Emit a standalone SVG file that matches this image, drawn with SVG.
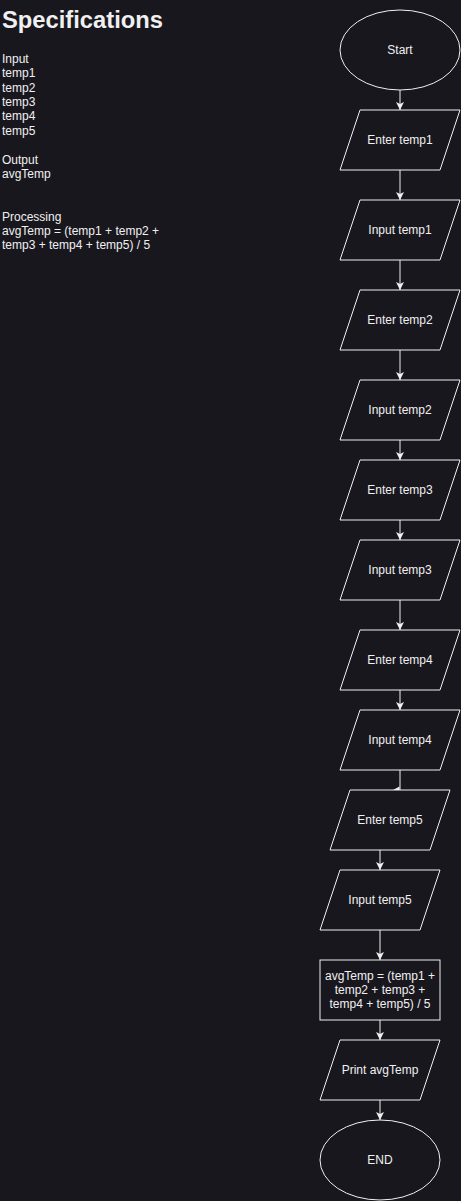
<svg xmlns="http://www.w3.org/2000/svg" width="461" height="1201" viewBox="0 0 461 1201">
<style>
.bg{fill:#18171e}
.shape{fill:#18171e;stroke:#f0f0f0;stroke-width:1}
.lbl{font-family:"Liberation Sans",Arial,sans-serif;font-size:12px;fill:#f0f0f0;text-anchor:middle;dominant-baseline:central}
.spec{font-family:"Liberation Sans",Arial,sans-serif;font-size:12px;fill:#f0f0f0}
.title{font-family:"Liberation Sans",Arial,sans-serif;font-size:23px;font-weight:bold;fill:#f0f0f0}
.edge{fill:none;stroke:#f0f0f0;stroke-width:1}
</style>
<defs>
<marker id="arr" viewBox="0 0 8 8" refX="8" refY="4" markerWidth="8" markerHeight="8" markerUnits="userSpaceOnUse" orient="auto">
<path d="M0,0 L8,4 L0,8 L2,4 z" fill="#f0f0f0"/>
</marker>
</defs>
<rect class="bg" x="0" y="0" width="461" height="1201"/>

<g id="specs">
<text class="title" x="2" y="28" textLength="161" lengthAdjust="spacingAndGlyphs">Specifications</text>
<text class="spec" x="2" y="63">Input</text>
<text class="spec" x="2" y="77">temp1</text>
<text class="spec" x="2" y="92">temp2</text>
<text class="spec" x="2" y="106">temp3</text>
<text class="spec" x="2" y="120">temp4</text>
<text class="spec" x="2" y="135">temp5</text>
<text class="spec" x="2" y="164">Output</text>
<text class="spec" x="2" y="178">avgTemp</text>
<text class="spec" x="2" y="221">Processing</text>
<text class="spec" x="2" y="235">avgTemp = (temp1 + temp2 +</text>
<text class="spec" x="2" y="249">temp3 + temp4 + temp5) / 5</text>
</g>

<g id="connectors">
<line class="edge" x1="400" y1="90" x2="400" y2="110" marker-end="url(#arr)"/>
<line class="edge" x1="400" y1="170" x2="400" y2="200" marker-end="url(#arr)"/>
<line class="edge" x1="400" y1="260" x2="400" y2="290" marker-end="url(#arr)"/>
<line class="edge" x1="400" y1="350" x2="400" y2="380" marker-end="url(#arr)"/>
<line class="edge" x1="400" y1="440" x2="400" y2="460" marker-end="url(#arr)"/>
<line class="edge" x1="400" y1="520" x2="400" y2="540" marker-end="url(#arr)"/>
<line class="edge" x1="400" y1="600" x2="400" y2="630" marker-end="url(#arr)"/>
<line class="edge" x1="400" y1="690" x2="400" y2="710" marker-end="url(#arr)"/>
<line class="edge" x1="400" y1="770" x2="400" y2="790"/>
<polygon points="393,790 399.5,786.5 399.5,790" fill="#f0f0f0"/>
<line class="edge" x1="380" y1="850" x2="380" y2="870" marker-end="url(#arr)"/>
<line class="edge" x1="380" y1="930" x2="380" y2="960" marker-end="url(#arr)"/>
<line class="edge" x1="380" y1="1020" x2="380" y2="1040" marker-end="url(#arr)"/>
<line class="edge" x1="380" y1="1100" x2="380" y2="1120" marker-end="url(#arr)"/>
</g>

<g id="start">
<ellipse class="shape" cx="400" cy="50" rx="60" ry="40"/>
<text class="lbl" x="400" y="50">Start</text>
</g>
<g id="enter-temp1">
<polygon class="shape" points="360,110 460,110 440,170 340,170"/>
<text class="lbl" x="400" y="140">Enter temp1</text>
</g>
<g id="input-temp1">
<polygon class="shape" points="360,200 460,200 440,260 340,260"/>
<text class="lbl" x="400" y="230">Input temp1</text>
</g>
<g id="enter-temp2">
<polygon class="shape" points="360,290 460,290 440,350 340,350"/>
<text class="lbl" x="400" y="320">Enter temp2</text>
</g>
<g id="input-temp2">
<polygon class="shape" points="360,380 460,380 440,440 340,440"/>
<text class="lbl" x="400" y="410">Input temp2</text>
</g>
<g id="enter-temp3">
<polygon class="shape" points="360,460 460,460 440,520 340,520"/>
<text class="lbl" x="400" y="490">Enter temp3</text>
</g>
<g id="input-temp3">
<polygon class="shape" points="360,540 460,540 440,600 340,600"/>
<text class="lbl" x="400" y="570">Input temp3</text>
</g>
<g id="enter-temp4">
<polygon class="shape" points="360,630 460,630 440,690 340,690"/>
<text class="lbl" x="400" y="660">Enter temp4</text>
</g>
<g id="input-temp4">
<polygon class="shape" points="360,710 460,710 440,770 340,770"/>
<text class="lbl" x="400" y="740">Input temp4</text>
</g>
<g id="enter-temp5">
<polygon class="shape" points="350,790 450,790 430,850 330,850"/>
<text class="lbl" x="390" y="820">Enter temp5</text>
</g>
<g id="input-temp5">
<polygon class="shape" points="340,870 440,870 420,930 320,930"/>
<text class="lbl" x="380" y="900">Input temp5</text>
</g>
<g id="compute">
<rect class="shape" x="320" y="960" width="120" height="60"/>
<text class="lbl" x="380" y="976">avgTemp = (temp1 +</text>
<text class="lbl" x="380" y="990">temp2 + temp3 +</text>
<text class="lbl" x="380" y="1004">temp4 + temp5) / 5</text>
</g>
<g id="print">
<polygon class="shape" points="340,1040 440,1040 420,1100 320,1100"/>
<text class="lbl" x="380" y="1070">Print avgTemp</text>
</g>
<g id="end">
<ellipse class="shape" cx="380" cy="1160" rx="60" ry="40"/>
<text class="lbl" x="380" y="1160">END</text>
</g>
</svg>
